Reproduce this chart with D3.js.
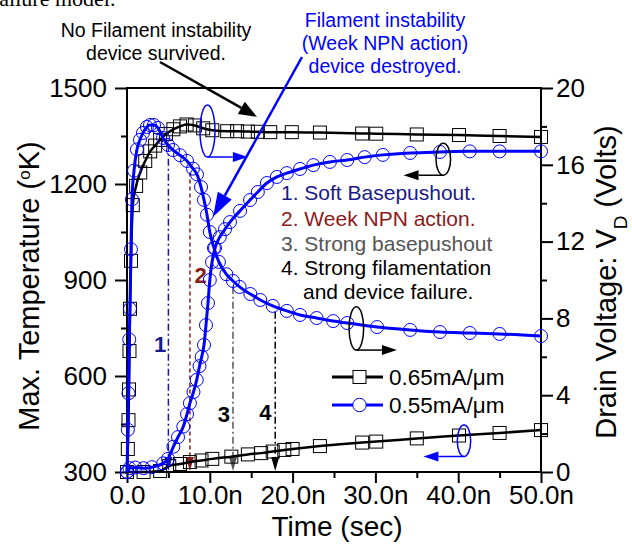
<!DOCTYPE html>
<html lang="en">
<head>
<meta charset="UTF-8">
<title>thermal failure</title>
<style>
    body { margin: 0; background: #fff; }
    svg text { font-family: "Liberation Sans", Arial, sans-serif; }
    .axis text { font-size: 26px; fill: #000; }
    .axis line { stroke: #000; stroke-width: 2; }
</style>
</head>
<body>
<script src="https://cdn.jsdelivr.net/npm/d3@7"></script>
<script>
    // time in ns, voltage in V, temperature in K
    var tV65 = [0, 0.1, 0.18, 0.24, 0.3, 0.36, 0.48, 0.7, 1.1, 1.6, 2.2, 2.8, 3.4, 4.0, 4.7, 5.6, 6.4, 7.2, 8.2, 9.2, 10.3, 12.1, 13.3, 14.6, 15.8, 17.3, 19.9, 23.3, 28.4, 30.1, 35, 40.1, 45, 50];
    var v65 = [0, 1.2, 2.7, 4.3, 6.3, 8.5, 11, 13.9, 14.9, 15.6, 16.2, 16.7, 17.0, 17.3, 17.6, 17.85, 18.0, 18.1, 18.05, 17.9, 17.8, 17.75, 17.75, 17.73, 17.72, 17.7, 17.7, 17.68, 17.63, 17.62, 17.58, 17.55, 17.5, 17.45];

    var tT65 = [0, 2, 4, 5.1, 6.4, 7.6, 9.0, 10.3, 12.6, 14.6, 16.2, 17.6, 19.0, 20.0, 23.3, 28.4, 30.1, 35, 40.1, 45, 50];
    var temp65 = [300, 300, 303, 319, 325, 331, 336, 341, 348, 355, 359, 364, 369, 372, 381, 392, 395, 405, 414, 422, 431];

    var tV55 = [0, 0.1, 0.18, 0.27, 0.36, 0.48, 0.6, 0.85, 1.2, 1.57, 1.93, 2.4, 2.78, 3.26, 3.74, 4.35, 4.95, 5.56, 6.4, 7.25, 7.97, 8.45, 8.94, 9.3, 9.66, 10.0, 10.5, 11.1, 12.0, 12.8, 13.6, 14.9, 16.1, 17.6, 19.3, 20.9, 22.9, 24.9, 26.6, 30.2, 34.2, 37.8, 41.4, 45, 50];
    var v55 = [0, 2.2, 4.1, 6.9, 8.5, 11.6, 14.2, 15.7, 16.8, 17.3, 17.66, 17.97, 18.07, 18.07, 17.92, 17.4, 17.03, 16.77, 16.5, 16.2, 15.8, 15.5, 14.84, 14.17, 13.4, 12.5, 11.67, 10.94, 10.3, 9.95, 9.64, 9.27, 8.96, 8.65, 8.39, 8.18, 8.02, 7.86, 7.76, 7.55, 7.4, 7.29, 7.24, 7.19, 7.08];

    var tT55 = [0, 0.3, 1, 2, 3, 4.37, 4.95, 5.6, 6.16, 6.8, 7.25, 7.6, 8.03, 8.42, 8.76, 9.02, 9.3, 9.54, 9.78, 10.0, 10.27, 10.63, 11.2, 11.84, 12.44, 13.65, 14.86, 15.8, 16.9, 18.1, 19.3, 20.9, 22.5, 24.5, 26.6, 28.7, 30.9, 34.2, 37.8, 41.4, 45, 50];
    var temp55 = [300, 312, 314, 312, 315, 327, 341, 379, 409, 442, 481, 515, 550, 588, 631, 660, 697, 759, 828, 900, 956, 1000, 1034, 1059, 1081, 1116, 1150, 1175, 1203, 1222, 1234, 1247, 1259, 1269, 1275, 1284, 1291, 1297, 1300, 1302, 1302, 1302];

    var tempTicks = [300, 600, 900, 1200, 1500];
    var tempMinor = [450, 750, 1050, 1350];
    var voltTicks = [0, 4, 8, 12, 16, 20];
    var voltMinor = [2, 6, 10, 14, 18];
    var timeTicks = [0, 10, 20, 30, 40, 50];
    var timeMinor = [5, 15, 25, 35, 45];

    var seriesNames = ["0.65mA/\u03bcm", "0.55mA/\u03bcm"];

    // stage markers: time, voltage where the line starts, label
    var stageT = [5, 7.6, 12.8, 17.9];
    var stageV = [17.1, 15.6, 9.65, 8.35];
    var stageLabel = ["1", "2", "3", "4"];
    var stageText = ["1. Soft Basepushout.", "2. Week NPN action.", "3. Strong basepushout", "4. Strong filamentation", "and device failure."];

    var width = 632, height = 546;
    var blue = "#0000ff", navy = "#1a1a8c", darkred = "#8b1a1a", grey = "#555555";

    var svg = d3.select("body").append("svg")
        .attr("width", width)
        .attr("height", height);

    var x = d3.scaleLinear().domain([0, 50]).range([127, 541]);
    var yL = d3.scaleLinear().domain([300, 1500]).range([472, 88]);
    var yR = d3.scaleLinear().domain([0, 20]).range([472, 88]);

    // caption fragment cut at the top
    svg.append("text").attr("x", -8).attr("y", 6)
        .style("font-family", "'Liberation Serif', serif").style("font-size", "22px")
        .text("failure model.");

    // axes
    var fmtT = function(d) { return d === 0 ? "0.0" : d3.format(".1f")(d) + "n"; };
    svg.append("g").attr("class", "axis").attr("transform", "translate(0,472)")
        .call(d3.axisBottom(x).tickValues(timeTicks).tickFormat(fmtT).tickSize(11).tickPadding(3));
    svg.append("g").attr("class", "axis").attr("transform", "translate(0,472)")
        .call(d3.axisBottom(x).tickValues(timeMinor).tickFormat("").tickSize(6));
    svg.append("g").attr("class", "axis").attr("transform", "translate(127,0)")
        .call(d3.axisLeft(yL).tickValues(tempTicks).tickFormat(d3.format("d")).tickSize(12).tickPadding(8));
    svg.append("g").attr("class", "axis").attr("transform", "translate(127,0)")
        .call(d3.axisLeft(yL).tickValues(tempMinor).tickFormat("").tickSize(6));
    svg.append("g").attr("class", "axis").attr("transform", "translate(541,0)")
        .call(d3.axisRight(yR).tickValues(voltTicks).tickSize(12).tickPadding(3));
    svg.append("g").attr("class", "axis").attr("transform", "translate(541,0)")
        .call(d3.axisRight(yR).tickValues(voltMinor).tickFormat("").tickSize(6));
    svg.selectAll(".axis .domain").remove();

    svg.append("rect")
        .attr("x", x(0)).attr("y", yR(20))
        .attr("width", x(50) - x(0)).attr("height", yR(0) - yR(20))
        .attr("fill", "none").attr("stroke", "#000").attr("stroke-width", 2);

    // axis titles
    var lt = svg.append("text")
        .attr("transform", "translate(39,286) rotate(-90)")
        .attr("text-anchor", "middle").style("font-size", "29px");
    lt.append("tspan").text("Max. Temperature (");
    lt.append("tspan").attr("baseline-shift", "super").style("font-size", "17px").text("o");
    lt.append("tspan").text("K)");

    var rt = svg.append("text")
        .attr("transform", "translate(616,282) rotate(-90)")
        .attr("text-anchor", "middle").style("font-size", "29px");
    rt.append("tspan").text("Drain Voltage: V");
    rt.append("tspan").attr("baseline-shift", "sub").style("font-size", "19px").text("D");
    rt.append("tspan").text(" (Volts)");

    svg.append("text").attr("x", 337).attr("y", 536)
        .attr("text-anchor", "middle").style("font-size", "28px")
        .text("Time (sec)");

    // helper for straight arrows with a filled head
    function arrow(x1, y1, x2, y2, color, w, len, hw) {
        var a = Math.atan2(y2 - y1, x2 - x1);
        var bx = x2 - len * Math.cos(a), by = y2 - len * Math.sin(a);
        svg.append("line").attr("x1", x1).attr("y1", y1).attr("x2", bx).attr("y2", by)
            .attr("stroke", color).attr("stroke-width", w);
        var px = -Math.sin(a) * hw / 2, py = Math.cos(a) * hw / 2;
        svg.append("path")
            .attr("d", "M" + x2 + "," + y2 + "L" + (bx + px) + "," + (by + py) + "L" + (bx - px) + "," + (by - py) + "Z")
            .attr("fill", color);
    }

    // stage lines
    var stageColor = [navy, darkred, grey, "#000"];
    stageT.forEach(function(t, i) {
        svg.append("line")
            .attr("x1", x(t)).attr("x2", x(t))
            .attr("y1", yR(stageV[i])).attr("y2", yR(0) - 12)
            .attr("stroke", stageColor[i]).attr("stroke-width", 1.5)
            .attr("stroke-dasharray", i == 1 ? "4,3" : "7,3,2,3");
        arrow(x(t), yR(0) - 14, x(t), yR(0) - 1, stageColor[i], 1.5, 14, 8);
    });
    var labelPos = [[4.0, 6.25], [8.9, 9.84], [11.7, 2.6], [16.7, 2.7]];
    var labelColor = [navy, darkred, "#000", "#000"];
    stageLabel.forEach(function(s, i) {
        svg.append("text")
            .attr("x", x(labelPos[i][0])).attr("y", yR(labelPos[i][1]))
            .attr("text-anchor", "middle")
            .style("font-size", "22px").style("font-weight", "bold")
            .attr("fill", labelColor[i]).text(s);
    });

    // data lines
    function zip(ts, vs) { return ts.map(function(t, i) { return [t, vs[i]]; }); }
    var lineR = d3.line().x(function(d) { return x(d[0]); }).y(function(d) { return yR(d[1]); }).curve(d3.curveMonotoneX);
    var lineL = d3.line().x(function(d) { return x(d[0]); }).y(function(d) { return yL(d[1]); }).curve(d3.curveMonotoneX);

    var d65v = zip(tV65, v65), d65t = zip(tT65, temp65);
    var d55v = zip(tV55, v55), d55t = zip(tT55, temp55);

    function squares(data, yS) {
        svg.append("g").selectAll("rect").data(data).enter().append("rect")
            .attr("x", function(d) { return x(d[0]) - 6.5; })
            .attr("y", function(d) { return yS(d[1]) - 6.5; })
            .attr("width", 13).attr("height", 13)
            .attr("fill", "none").attr("stroke", "#000").attr("stroke-width", 1);
    }
    function circles(data, yS) {
        svg.append("g").selectAll("circle").data(data).enter().append("circle")
            .attr("cx", function(d) { return x(d[0]); })
            .attr("cy", function(d) { return yS(d[1]); })
            .attr("r", 6.5)
            .attr("fill", "none").attr("stroke", blue).attr("stroke-width", 1);
    }

    svg.append("path").attr("d", lineR(d65v)).attr("fill", "none").attr("stroke", "#000").attr("stroke-width", 2.5);
    svg.append("path").attr("d", lineL(d65t)).attr("fill", "none").attr("stroke", "#000").attr("stroke-width", 2.5);
    squares(d65v, yR);
    squares(d65t, yL);

    svg.append("path").attr("d", lineR(d55v)).attr("fill", "none").attr("stroke", blue).attr("stroke-width", 3);
    svg.append("path").attr("d", lineL(d55t)).attr("fill", "none").attr("stroke", blue).attr("stroke-width", 3);
    circles(d55v, yR);
    circles(d55t, yL);

    // ellipses marking which axis each curve uses
    var ell = [
        { t: 9.72, v: 17.76, rx: 7.5, ry: 26, c: blue, to: 14.6 },
        { t: 38.2, v: 16.29, rx: 7.3, ry: 16, c: "#000", to: 33.4 },
        { t: 27.7, v: 7.48, rx: 7.3, ry: 21.7, c: "#000", to: 32.6 },
        { t: 40.7, v: 1.63, rx: 6.7, ry: 15.8, c: blue, to: 35.8 }
    ];
    ell.forEach(function(e) {
        svg.append("ellipse")
            .attr("cx", x(e.t)).attr("cy", yR(e.v))
            .attr("rx", e.rx).attr("ry", e.ry)
            .attr("fill", "none").attr("stroke", e.c).attr("stroke-width", 1.5);
        arrow(x(e.t), yR(e.v) + e.ry, x(e.to), yR(e.v) + e.ry, e.c, 1.5, 15, 10);
    });

    // stage description list
    var listColor = [navy, darkred, grey, "#000", "#000"];
    var listY = [200, 226, 251, 275, 299];
    stageText.forEach(function(s, i) {
        svg.append("text")
            .attr("x", i == 4 ? 303 : 281).attr("y", listY[i])
            .style("font-size", "21px").attr("fill", listColor[i]).text(s);
    });

    // top annotations
    var noFil = ["No Filament instability", "device survived."];
    noFil.forEach(function(s, i) {
        svg.append("text").attr("x", 156).attr("y", 37 + i * 23)
            .attr("text-anchor", "middle").style("font-size", "19.5px").text(s);
    });
    var fil = ["Filament instability", "(Week NPN action)", "device destroyed."];
    fil.forEach(function(s, i) {
        svg.append("text").attr("x", 385).attr("y", 27 + i * 23)
            .attr("text-anchor", "middle").style("font-size", "19.5px")
            .attr("fill", blue).text(s);
    });
    arrow(160, 62, x(15.7), yR(18.5), "#000", 2.5, 18, 14);
    arrow(302, 57, x(10.4), yR(13.3), blue, 2.5, 24, 16);

    // legend
    var leg = svg.append("g");
    [0, 1].forEach(function(i) {
        var ly = 377 + i * 28;
        var c = i == 0 ? "#000" : blue;
        leg.append("line").attr("x1", 332).attr("x2", 383).attr("y1", ly).attr("y2", ly)
            .attr("stroke", c).attr("stroke-width", 3);
        if (i == 0) {
            leg.append("rect").attr("x", 353).attr("y", ly - 6.5).attr("width", 13).attr("height", 13)
                .attr("fill", "#fff").attr("stroke", "#000").attr("stroke-width", 1);
        } else {
            leg.append("circle").attr("cx", 359.5).attr("cy", ly).attr("r", 6.7)
                .attr("fill", "#fff").attr("stroke", blue).attr("stroke-width", 1);
        }
        leg.append("text").attr("x", 389).attr("y", ly + 7.5)
            .style("font-size", "22.5px").text(seriesNames[i]);
    });
</script>
</body>
</html>
